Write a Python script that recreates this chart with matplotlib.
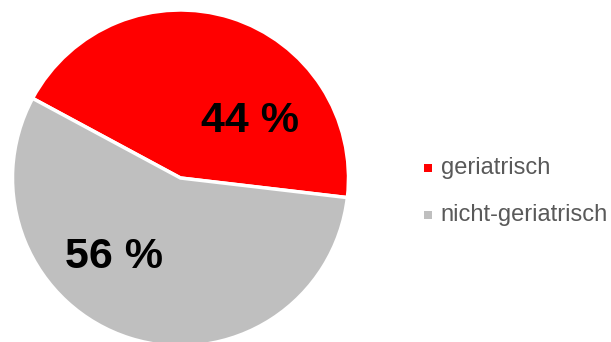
import matplotlib
matplotlib.use('Agg')
import matplotlib.pyplot as plt

# data
labels = ["geriatrisch", "nicht-geriatrisch"]
shares = [44, 56]
colors = ["#ff0000", "#bfbfbf"]

plt.rcParams['font.family'] = ['Liberation Sans', 'DejaVu Sans']

fig = plt.figure(figsize=(6.11, 3.42), dpi=100)
ax = fig.add_axes([0, 0, 1, 1])

wedges, texts = ax.pie(
    shares, colors=colors, startangle=151.7, counterclock=False,
    center=(180.5, 164), radius=168, frame=True,
    wedgeprops=dict(edgecolor='white', linewidth=2.5),
)
ax.set_xlim(0, 611)
ax.set_ylim(0, 342)
ax.set_aspect('equal')
ax.axis('off')

# percentage labels inside the slices (baseline anchored)
label_pos = [(250, 342 - 132), (114, 342 - 267.5)]
for (x, y), v in zip(label_pos, shares):
    ax.text(x, y, f"{v} %", fontsize=31, fontweight='bold', color='black',
            ha='center', va='baseline')

# legend on the right
legend_y = [342 - 168, 342 - 215]
for lab, col, y in zip(labels, colors, legend_y):
    ax.scatter([428], [y], marker='s', s=40, color=col, linewidths=0)
    ax.text(440.5, y, lab, fontsize=17, color='#595959', ha='left', va='center')

fig.savefig("out.png", dpi=100)
